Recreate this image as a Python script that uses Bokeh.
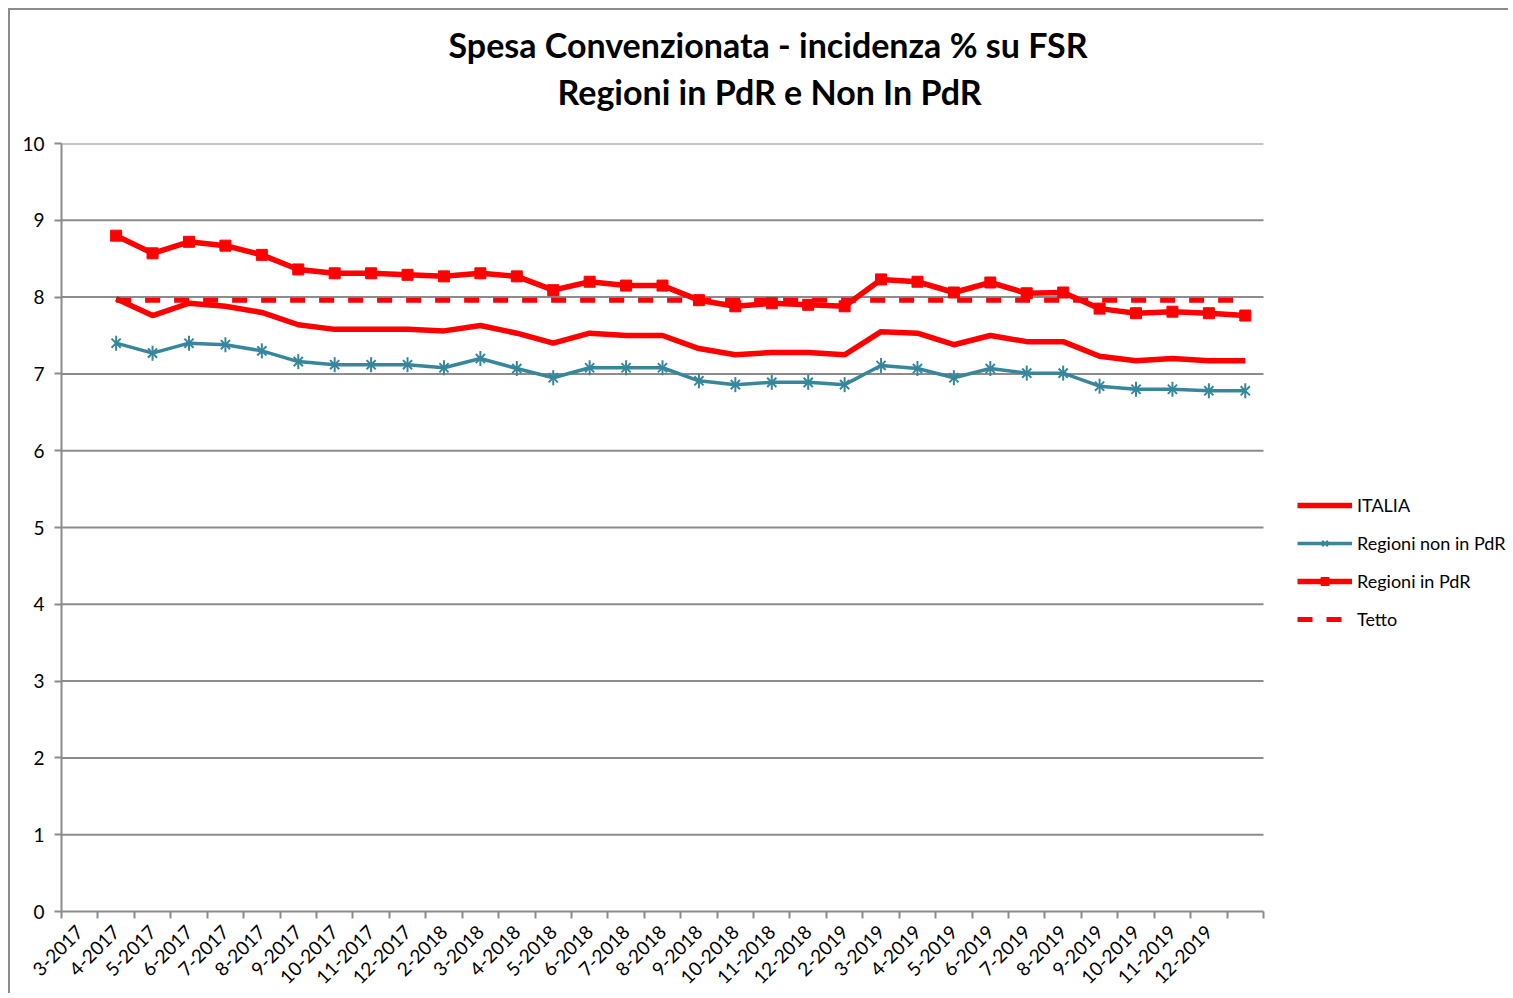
import numpy as np
from bokeh.plotting import figure
from bokeh.models import (ColumnDataSource, Legend, LegendItem, FixedTicker,
                          Range1d, Title)
from bokeh.embed import file_html
from bokeh.resources import INLINE

# ---- data -------------------------------------------------------------
months = ["3-2017", "4-2017", "5-2017", "6-2017", "7-2017", "8-2017", "9-2017",
          "10-2017", "11-2017", "12-2017", "2-2018", "3-2018", "4-2018", "5-2018",
          "6-2018", "7-2018", "8-2018", "9-2018", "10-2018", "11-2018", "12-2018",
          "2-2019", "3-2019", "4-2019", "5-2019", "6-2019", "7-2019", "8-2019",
          "9-2019", "10-2019", "11-2019", "12-2019"]

italia = [7.98, 7.76, 7.92, 7.88, 7.80, 7.64, 7.58, 7.58, 7.58, 7.56, 7.63,
          7.53, 7.40, 7.53, 7.50, 7.50, 7.33, 7.25, 7.28, 7.28, 7.25, 7.55,
          7.53, 7.38, 7.50, 7.42, 7.42, 7.23, 7.17, 7.20, 7.17, 7.17]

non_pdr = [7.40, 7.27, 7.40, 7.38, 7.30, 7.16, 7.12, 7.12, 7.12, 7.08, 7.20,
           7.07, 6.95, 7.08, 7.08, 7.08, 6.91, 6.86, 6.89, 6.89, 6.86, 7.11,
           7.07, 6.95, 7.07, 7.01, 7.01, 6.84, 6.80, 6.80, 6.78, 6.78]

in_pdr = [8.80, 8.57, 8.72, 8.67, 8.55, 8.36, 8.31, 8.31, 8.29, 8.27, 8.31,
          8.27, 8.09, 8.20, 8.15, 8.15, 7.96, 7.88, 7.92, 7.90, 7.88, 8.23,
          8.20, 8.06, 8.19, 8.05, 8.06, 7.85, 7.79, 7.81, 7.79, 7.76]

tetto = [7.96] * 32

y_levels = list(range(0, 11))

n_slots = len(months) + 1            # category slots on the axis
x = np.arange(1, n_slots) + 0.5      # series occupy slots 2..33 (Excel layout)

src = ColumnDataSource(dict(x=x, italia=italia, non_pdr=non_pdr,
                            in_pdr=in_pdr, tetto=tetto))

FONT = "Lato"
RED = "#FF0000"
TEAL = "#37879C"
GRID = "#8C8C8C"

# layout: plot area of 1202 px for the axis, legend lives to its right
W, H = 1500, 985
LEFT, TOP, BOTTOM = 51, 133, 84
AXIS_PX = 1202
frame_w = W - LEFT
x_end = n_slots * frame_w / AXIS_PX

p = figure(width=W, height=H, output_backend="svg", toolbar_location=None,
           x_range=Range1d(0, x_end), y_range=Range1d(0, 10),
           min_border_left=LEFT, min_border_right=0,
           min_border_top=TOP, min_border_bottom=BOTTOM)
p.styles = {"margin": "8px 0 0 8px",
            "border-top": "2px solid #8c8c8c", "border-left": "2px solid #8c8c8c"}
p.outline_line_color = None

spacer = Title(text=" ", text_font_size="1px", standoff=27)
t1 = Title(text="Regioni in PdR e Non In PdR", align="left", offset=496,
           text_font=FONT, text_font_size="34px", text_font_style="bold",
           text_color="black", standoff=4)
t0 = Title(text="Spesa Convenzionata - incidenza % su FSR", align="left",
           offset=387, text_font=FONT, text_font_size="34px",
           text_font_style="bold", text_color="black", standoff=3)
p.add_layout(spacer, "above")
p.add_layout(t1, "above")
p.add_layout(t0, "above")

# axes
centers = [i + 0.5 for i in range(len(months))]
p.xaxis.bounds = (0, n_slots)
p.xaxis.ticker = FixedTicker(ticks=centers,
                             minor_ticks=list(range(0, n_slots + 1)))
p.xaxis.major_label_overrides = {c: m for c, m in zip(centers, months)}
p.xaxis.major_label_orientation = np.pi / 4
p.xaxis.major_tick_line_color = None
p.xaxis.minor_tick_line_color = GRID
p.xaxis.minor_tick_line_width = 2
p.xaxis.minor_tick_in = 0
p.xaxis.minor_tick_out = 7
p.xaxis.axis_line_color = GRID
p.xaxis.axis_line_width = 2
p.xaxis.major_label_text_font = FONT
p.xaxis.major_label_text_font_size = "19px"
p.xaxis.major_label_text_color = "black"
p.xaxis.major_label_standoff = 10

p.yaxis.ticker = FixedTicker(ticks=y_levels)
p.yaxis.axis_line_color = GRID
p.yaxis.axis_line_width = 2
p.yaxis.major_tick_line_color = GRID
p.yaxis.major_tick_line_width = 2
p.yaxis.major_tick_in = 0
p.yaxis.major_tick_out = 7
p.yaxis.minor_tick_line_color = None
p.yaxis.major_label_text_font = FONT
p.yaxis.major_label_text_font_size = "19px"
p.yaxis.major_label_text_color = "black"
p.yaxis.major_label_standoff = 10

# horizontal gridlines limited to the category span
p.xgrid.grid_line_color = None
p.ygrid.grid_line_color = None
gl = y_levels[1:]
p.segment(x0=[0] * len(gl), x1=[n_slots] * len(gl), y0=gl, y1=gl,
          line_color=GRID, line_width=2)

# series
r_tetto = p.line("x", "tetto", source=src, line_color=RED, line_width=5,
                 line_dash="15 14")
r_it = p.line("x", "italia", source=src, line_color=RED, line_width=5.5)
r_non_l = p.line("x", "non_pdr", source=src, line_color=TEAL, line_width=3.5)
r_non_x = p.scatter("x", "non_pdr", source=src, marker="x", size=13,
                    line_color=TEAL, line_width=2)
r_non_v = p.scatter("x", "non_pdr", source=src, marker="dash", size=15,
                    angle=np.pi / 2, line_color=TEAL, line_width=2)
r_in_l = p.line("x", "in_pdr", source=src, line_color=RED, line_width=5.5)
r_in_m = p.scatter("x", "in_pdr", source=src, marker="square", size=11,
                   fill_color=RED, line_color=RED)

legend = Legend(items=[
    LegendItem(label="ITALIA", renderers=[r_it]),
    LegendItem(label="Regioni non in PdR", renderers=[r_non_l, r_non_x, r_non_v]),
    LegendItem(label="Regioni in PdR", renderers=[r_in_l, r_in_m]),
    LegendItem(label="Tetto", renderers=[r_tetto]),
], location=(1236, 281), orientation="vertical")
legend.padding = 0
legend.margin = 0
legend.spacing = 16
legend.glyph_width = 55
legend.glyph_height = 20
legend.label_height = 20
legend.label_standoff = 5
legend.label_text_font = FONT
legend.label_text_font_size = "18px"
legend.label_text_color = "black"
legend.border_line_color = None
legend.background_fill_alpha = 0
p.add_layout(legend, "center")

open("out.html", "w").write(file_html(p, INLINE))
